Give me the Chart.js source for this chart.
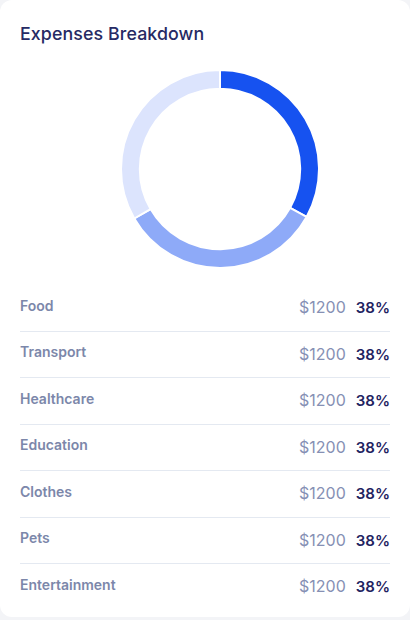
<!DOCTYPE html>
<html>
<head>
<meta charset="utf-8">
<script src="https://cdn.jsdelivr.net/npm/chart.js@4/dist/chart.umd.min.js"></script>
<style>
  html, body { margin: 0; padding: 0; }
  body { width: 410px; height: 620px; background: #f3f4f7; position: relative; overflow: hidden; font-family: Inter, "Open Sans", sans-serif; }
  .card { position: absolute; left: 0; top: 0; width: 410px; height: 617px; background: #fff; border-radius: 12px; }
  .title { position: absolute; left: 20px; top: 23px; font-size: 17.8px; font-weight: 500; color: #262a64; letter-spacing: 0.1px; }
  .chartbox { position: absolute; left: 120px; top: 69px; width: 200px; height: 200px; }
  .list { position: absolute; left: 20px; top: 285px; width: 370px; }
  .row { position: relative; height: 46.5px; box-sizing: border-box; border-bottom: 1px solid #e4e9f1; }
  .row:last-child { border-bottom: none; }
  .lbl { position: absolute; left: 0; top: 11.5px; font-size: 14px; font-weight: 600; color: #7c87aa; line-height: 18px; }
  .val { position: absolute; right: 0; top: 12px; font-size: 16px; line-height: 20px; white-space: nowrap; }
  .amt { color: #8690b4; font-weight: 400; }
  .pct { color: #1f2361; font-weight: 600; font-size: 15px; margin-left: 10px; }
</style>
</head>
<body>
<div class="card">
  <div class="title">Expenses Breakdown</div>
  <div class="chartbox"><canvas id="c"></canvas></div>
  <div class="list" id="list"></div>
</div>
<script>
const categories = ["Food", "Transport", "Healthcare", "Education", "Clothes", "Pets", "Entertainment"];
const amounts = ["$1200", "$1200", "$1200", "$1200", "$1200", "$1200", "$1200"];
const percents = ["38%", "38%", "38%", "38%", "38%", "38%", "38%"];
const segmentLabels = ["Segment A", "Segment B", "Segment C"];
const segmentValues = [119, 121, 120];
const segmentColors = ["#1652f0", "#8eaaf8", "#dce4fd"];

const list = document.getElementById('list');
categories.forEach((c, i) => {
  const row = document.createElement('div');
  row.className = 'row';
  row.innerHTML = '<span class="lbl"></span><span class="val"><span class="amt"></span><span class="pct"></span></span>';
  row.querySelector('.lbl').textContent = c;
  row.querySelector('.amt').textContent = amounts[i];
  row.querySelector('.pct').textContent = percents[i];
  list.appendChild(row);
});

new Chart(document.getElementById('c'), {
  type: 'doughnut',
  data: {
    labels: segmentLabels,
    datasets: [{
      data: segmentValues,
      backgroundColor: segmentColors,
      borderColor: '#ffffff',
      borderWidth: 2,
      hoverOffset: 0
    }]
  },
  options: {
    responsive: true,
    maintainAspectRatio: false,
    animation: false,
    cutout: '81%',
    plugins: { legend: { display: false }, tooltip: { enabled: false } },
    layout: { padding: 0 }
  }
});
</script>
</body>
</html>
